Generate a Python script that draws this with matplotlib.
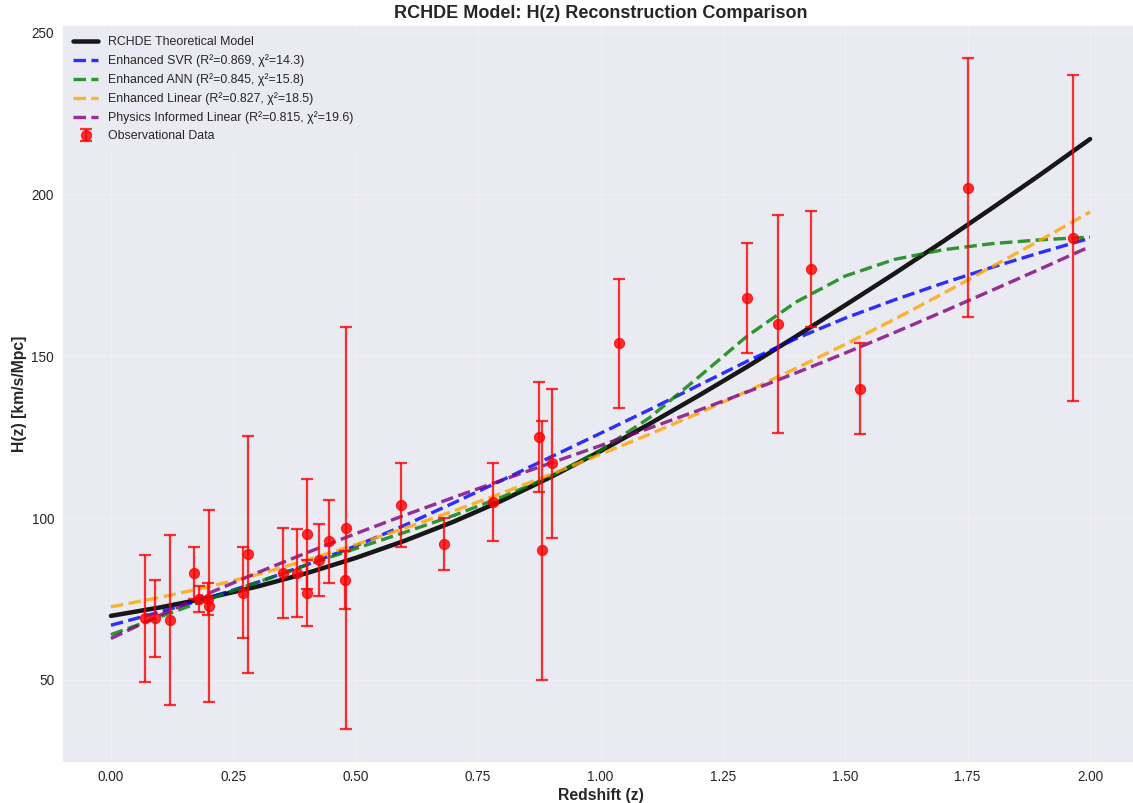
import numpy as np
import matplotlib
matplotlib.use("Agg")
import matplotlib.pyplot as plt
import seaborn as sns

# Observational H(z) data (cosmic chronometers)
z_obs = [0.07, 0.09, 0.12, 0.17, 0.179, 0.199, 0.20, 0.27, 0.28, 0.352,
         0.38, 0.40, 0.4004, 0.425, 0.445, 0.4783, 0.48, 0.593, 0.68, 0.781,
         0.875, 0.88, 0.90, 1.037, 1.30, 1.363, 1.43, 1.53, 1.75, 1.965]
H_obs = [69.0, 69.0, 68.6, 83.0, 75.0, 75.0, 72.9, 77.0, 88.8, 83.0,
         83.0, 95.0, 77.0, 87.1, 92.8, 80.9, 97.0, 104.0, 92.0, 105.0,
         125.0, 90.0, 117.0, 154.0, 168.0, 160.0, 177.0, 140.0, 202.0, 186.5]
H_err = [19.6, 12.0, 26.2, 8.0, 4.0, 5.0, 29.6, 14.0, 36.6, 14.0,
         13.5, 17.0, 10.2, 11.2, 12.9, 9.0, 62.0, 13.0, 8.0, 12.0,
         17.0, 40.0, 23.0, 20.0, 17.0, 33.6, 18.0, 14.0, 40.0, 50.4]

# Model curves sampled on the redshift grid
z_grid = [0.0, 0.1, 0.2, 0.3, 0.4, 0.5, 0.6, 0.7, 0.8, 0.9, 1.0,
          1.1, 1.2, 1.3, 1.4, 1.5, 1.6, 1.7, 1.8, 1.9, 2.0]
H_rchde = [69.8, 72.4, 75.4, 78.9, 83.0, 87.7, 93.0, 98.9, 105.5, 112.8, 120.7,
           129.1, 137.8, 146.8, 156.2, 165.8, 175.5, 185.5, 195.8, 206.3, 217.1]
H_svr = [66.9, 71.0, 75.4, 80.2, 85.6, 91.4, 97.8, 104.7, 111.8, 119.0, 126.2,
         133.5, 141.0, 148.5, 155.5, 161.8, 167.4, 172.6, 177.5, 182.1, 186.5]
H_ann = [64.0, 69.5, 75.0, 80.2, 85.5, 90.6, 95.6, 100.8, 106.6, 113.0, 121.0,
         131.0, 143.5, 156.3, 166.8, 174.8, 179.9, 182.9, 184.8, 186.0, 186.8]
H_lin = [72.6, 75.5, 78.8, 82.6, 87.0, 91.8, 96.9, 102.2, 107.8, 113.6, 119.7,
         125.9, 132.4, 139.2, 146.3, 153.7, 161.4, 169.4, 177.7, 186.0, 194.6]
H_pil = [62.8, 70.0, 76.8, 83.2, 89.3, 95.2, 100.9, 106.4, 111.8, 117.1, 122.4,
         127.8, 133.3, 139.0, 144.9, 151.0, 157.3, 163.8, 170.4, 177.1, 183.9]

labels = [
    "RCHDE Theoretical Model",
    "Enhanced SVR (R²=0.869, χ²=14.3)",
    "Enhanced ANN (R²=0.845, χ²=15.8)",
    "Enhanced Linear (R²=0.827, χ²=18.5)",
    "Physics Informed Linear (R²=0.815, χ²=19.6)",
]

sns.set_style("darkgrid")
plt.rcParams['font.family'] = ['Liberation Sans', 'DejaVu Sans']

dpi = 81
fig = plt.figure(figsize=(1133 / dpi, 803 / dpi), dpi=dpi)
ax = fig.add_axes([62 / 1133, 1 - 762 / 803, (1139 - 62) / 1133, (762 - 25) / 803])

ax.plot(z_grid, H_rchde, color='black', linewidth=4, alpha=0.9, label=labels[0])
ax.plot(z_grid, H_svr, '--', color='blue', linewidth=3, alpha=0.8, label=labels[1])
ax.plot(z_grid, H_ann, '--', color='green', linewidth=3, alpha=0.8, label=labels[2])
ax.plot(z_grid, H_lin, '--', color='orange', linewidth=3, alpha=0.8, label=labels[3])
ax.plot(z_grid, H_pil, '--', color='purple', linewidth=3, alpha=0.8, label=labels[4])

ax.errorbar(z_obs, H_obs, yerr=H_err, fmt='o', color='red', markersize=9,
            capsize=5, capthick=2, elinewidth=2, alpha=0.8,
            label="Observational Data")

ax.set_xlim(-0.1, 2.1)
ax.set_xticks([0.0, 0.25, 0.5, 0.75, 1.0, 1.25, 1.5, 1.75, 2.0])
ax.set_xticklabels(["0.00", "0.25", "0.50", "0.75", "1.00", "1.25", "1.50", "1.75", "2.00"])
ax.set_yticks([50, 100, 150, 200, 250])
ax.tick_params(labelsize=12)

ax.set_xlabel("Redshift (z)", fontsize=14, fontweight='bold')
ax.set_ylabel("H(z) [km/s/Mpc]", fontsize=14, fontweight='bold')
ax.set_title("RCHDE Model: H(z) Reconstruction Comparison", fontsize=16, fontweight='bold')
leg = ax.legend(loc='upper left', fontsize=11, facecolor='#EAEAF2',
                edgecolor='#EAEAF2', framealpha=0.8)
ax.grid(True, alpha=0.3)

fig.savefig("out.png", dpi=dpi)
